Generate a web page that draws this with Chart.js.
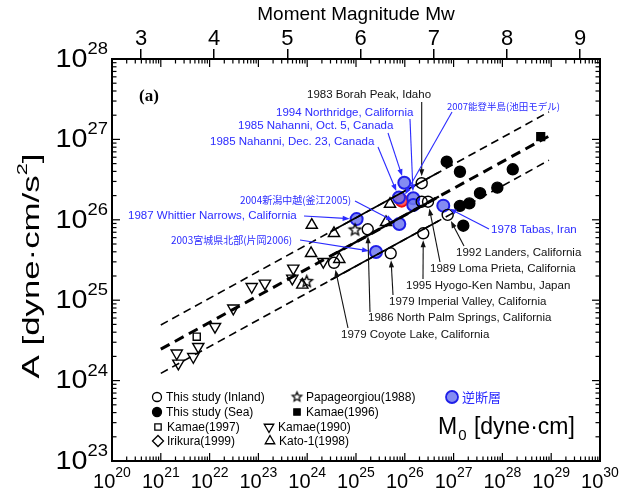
<!DOCTYPE html>
<html>
<head>
<meta charset="utf-8">
<script src="https://cdn.jsdelivr.net/npm/chart.js@4/dist/chart.umd.min.js"></script>
<style>
  html, body { margin: 0; padding: 0; background: #fff; }
  #wrap { width: 634px; height: 497px; }
</style>
</head>
<body>
<div id="wrap"><canvas id="c" width="634" height="497"></canvas></div>
<script>
// ---- data: seismic moment M0 [dyne·cm] and acceleration source level A [dyne·cm/s^2] ----
// This study, inland events
const inlandM0 = [1.74e25, 3.54e24, 5.14e25, 2.39e26, 2.22e26, 2.99e26, 7.57e26, 2.22e26];
const inlandA  = [7.62e25, 2.92e25, 3.83e25, 6.79e25, 1.68e26, 1.68e26, 1.15e26, 2.85e26];
// This study, offshore events
const seaM0 = [7.23e26, 1.35e27, 1.63e28, 7.87e27, 3.48e27, 2.10e27, 1.35e27, 1.58e27];
const seaA  = [5.28e26, 3.96e26, 4.25e26, 2.51e26, 2.14e26, 1.60e26, 1.49e26, 8.45e25];
// Kamae (1996)
const kamae96M0 = [6.10e28];
const kamae96A  = [1.08e27];
// Kamae (1997)
const kamae97M0 = [5.45e21];
const kamae97A  = [3.52e24];
// Kamae (1990)
const kamae90M0 = [2.14e24, 5.19e23, 4.95e23, 1.36e23, 7.29e22, 3.06e22, 1.29e22, 5.86e21, 2.12e21, 4.63e21, 2.29e21];
const kamae90A  = [3.01e25, 2.49e25, 1.87e25, 1.62e25, 1.47e25, 7.93e24, 4.68e24, 2.64e24, 2.19e24, 1.98e24, 1.64e24];
// Kato-1 (1998)
const kato1M0 = [1.24e24, 3.54e24, 1.20e24, 7.94e23, 4.55e24, 4.98e25, 4.12e25];
const kato1A  = [8.61e25, 6.79e25, 3.83e25, 1.55e25, 3.23e25, 1.57e26, 9.31e25];
// Papageorgiou (1988)
const papaM0 = [9.55e24, 9.77e23];
const papaA  = [7.46e25, 1.70e25];
// reverse-fault events
const reverseM0 = [1.03e25, 2.57e25, 7.71e25, 9.77e25, 1.49e26, 7.60e25, 1.49e26, 6.15e26];
const reverseA  = [1.02e26, 3.98e25, 8.87e25, 2.89e26, 1.85e26, 1.89e26, 1.53e26, 1.50e26];
// 2007 Noto Peninsula (Ikeda model)
const notoM0 = [8.63e25];
const notoA  = [1.73e26];

// scaling relations: mean and factor-2 bounds
const lineM0   = [1e21, 9e28];
const meanA    = [2.46e24, 1.10e27];
const upperA   = [4.92e24, 2.20e27];
const lowerA   = [1.23e24, 5.50e26];
const solidM0  = [3e24, 5e26];
const meanSolidA  = [3.55e25, 1.95e26];
const upperSolidA = [7.10e25, 3.90e26];
const lowerSolidA = [1.78e25, 9.75e25];

// axis ticks
const m0Exponents = [20, 21, 22, 23, 24, 25, 26, 27, 28, 29, 30];
const aExponents  = [23, 24, 25, 26, 27, 28];
const mwTicks     = [3, 4, 5, 6, 7, 8, 9];

// Mw = 2/3 log10(M0) - 10.73
const MW_C = 10.73;
const mwOf = m0 => 2 / 3 * Math.log10(m0) - MW_C;

const SANS = '"Liberation Sans", Arial, sans-serif';
const CJK = '"Noto Sans CJK JP", sans-serif';
const BLUE = '#2b2bff';

const pts = (xs, ys) => xs.map((v, i) => ({ x: v, y: ys[i] }));

function starImage(r, lw) {
  const s = Math.ceil(2 * r + 2 * lw + 2);
  const c = document.createElement('canvas');
  c.width = c.height = s;
  const g = c.getContext('2d');
  g.beginPath();
  for (let i = 0; i < 10; i++) {
    const rr = i % 2 ? r * 0.45 : r;
    const a = -Math.PI / 2 + i * Math.PI / 5;
    g.lineTo(s / 2 + rr * Math.cos(a), s / 2 + rr * Math.sin(a));
  }
  g.closePath();
  g.lineWidth = lw;
  g.strokeStyle = '#000';
  g.stroke();
  return c;
}
const starBig = starImage(6, 1.4);
const starSmall = starImage(5, 1.2);

const lineDs = (xs, ys, w, dash) => ({
  data: pts(xs, ys), showLine: true, borderColor: '#000', borderWidth: w,
  borderDash: dash, pointRadius: 0, fill: false
});
const markDs = (xs, ys, style, extra) => Object.assign({
  data: pts(xs, ys), showLine: false, pointStyle: style, pointRadius: 5.5,
  borderColor: '#000', backgroundColor: 'rgba(0,0,0,0)', pointBorderWidth: 1.4
}, extra || {});

const datasets = [
  lineDs(lineM0, upperA, 1.6, [8, 5]),
  lineDs(lineM0, meanA, 3, [10, 6]),
  lineDs(lineM0, lowerA, 1.6, [8, 5]),
  lineDs(solidM0, upperSolidA, 1.6, []),
  lineDs(solidM0, meanSolidA, 2.2, []),
  lineDs(solidM0, lowerSolidA, 1.6, []),
  markDs(kamae90M0, kamae90A, 'triangle', { pointRadius: 6.5, rotation: 180 }),
  markDs(kato1M0, kato1A, 'triangle', { pointRadius: 6.5 }),
  markDs(kamae97M0, kamae97A, 'rect', { pointRadius: 5 }),
  markDs(papaM0, papaA, starBig),
  markDs(inlandM0, inlandA, 'circle'),
  markDs(seaM0, seaA, 'circle', { backgroundColor: '#000' }),
  markDs(kamae96M0, kamae96A, 'rect', { backgroundColor: '#000', pointRadius: 5.5 }),
  markDs(reverseM0, reverseA, 'circle', { pointRadius: 6, backgroundColor: 'rgba(110,120,240,0.85)', borderColor: '#1f1fe8', pointBorderWidth: 2 }),
  markDs(notoM0, notoA, 'circle', { pointRadius: 6, backgroundColor: 'rgba(255,70,70,0.9)', borderColor: '#ee1111', pointBorderWidth: 2 })
];
const DS = { inland: 10, reverse: 13, noto: 14 };

// event labels: text placement and the point each arrow points to
const notes = [
  { t: '1983 Borah Peak, Idaho', c: '#111', f: SANS, x: 307, y: 95, from: [421.7, 102], ds: 'inland', i: 7 },
  { t: '1994 Northridge, California', c: BLUE, f: SANS, x: 276, y: 113, from: [410, 119], ds: 'reverse', i: 4 },
  { t: '1985 Nahanni, Oct. 5, Canada', c: BLUE, f: SANS, x: 238, y: 126, from: [388, 133], ds: 'reverse', i: 3 },
  { t: '1985 Nahanni, Dec. 23, Canada', c: BLUE, f: SANS, x: 210, y: 142, from: [378, 147], ds: 'reverse', i: 5 },
  { t: '2007能登半島(池田モデル)', c: BLUE, f: CJK, s: 9.5, x: 447, y: 106, from: [452, 112], ds: 'noto', i: 0 },
  { t: '2004新潟中越(釜江2005)', c: BLUE, f: CJK, s: 10, x: 240, y: 200, from: [355, 201], ds: 'reverse', i: 2 },
  { t: '1987 Whittier Narrows, California', c: BLUE, f: SANS, x: 128, y: 216, from: [304, 216], ds: 'reverse', i: 0 },
  { t: '2003宮城県北部(片岡2006)', c: BLUE, f: CJK, s: 10, x: 171, y: 240, from: [300, 240], ds: 'reverse', i: 1 },
  { t: '1978 Tabas, Iran', c: BLUE, f: SANS, x: 491, y: 230, from: [489, 229], ds: 'reverse', i: 7 },
  { t: '1992 Landers, California', c: '#111', f: SANS, x: 456, y: 253, from: [464, 246], ds: 'inland', i: 6 },
  { t: '1989 Loma Prieta, California', c: '#111', f: SANS, x: 430, y: 269, from: [440, 262], ds: 'inland', i: 5 },
  { t: '1995 Hyogo-Ken Nambu, Japan', c: '#111', f: SANS, x: 406, y: 286, from: [423, 279], ds: 'inland', i: 3 },
  { t: '1979 Imperial Valley, California', c: '#111', f: SANS, x: 389, y: 302, from: [393, 295], ds: 'inland', i: 2 },
  { t: '1986 North Palm Springs, California', c: '#111', f: SANS, x: 368, y: 318, from: [370, 312], ds: 'inland', i: 0 },
  { t: '1979 Coyote Lake, California', c: '#111', f: SANS, x: 341, y: 335, from: [348, 328], ds: 'inland', i: 1 }
];

// legend rows: marker, text, placement
const legendItems = [
  { ds: 10, t: 'This study (Inland)', x: 157, y: 397 },
  { ds: 9,  t: 'Papageorgiou(1988)', x: 297, y: 397, star: true },
  { ds: 13, t: '逆断層', x: 452, y: 397, cjk: true },
  { ds: 11, t: 'This study (Sea)', x: 157, y: 412 },
  { ds: 12, t: 'Kamae(1996)', x: 297, y: 412 },
  { ds: 8,  t: 'Kamae(1997)', x: 158, y: 427 },
  { ds: 6,  t: 'Kamae(1990)', x: 269, y: 427 },
  { ds: 'diamond', t: 'Irikura(1999)', x: 158, y: 441 },
  { ds: 7,  t: 'Kato-1(1998)', x: 270, y: 441 }
];

function powText(ctx, x, y, base, exp, size, expSize, align, sx) {
  ctx.font = `${size}px ${SANS}`;
  const w1 = ctx.measureText(base).width;
  ctx.font = `${expSize}px ${SANS}`;
  const w2 = ctx.measureText(exp).width;
  const total = (w1 + w2) * sx;
  let x0 = align === 'right' ? x - total : x - total / 2;
  ctx.save();
  ctx.translate(x0, y);
  ctx.scale(sx, 1);
  ctx.textAlign = 'left';
  ctx.textBaseline = 'middle';
  ctx.font = `${size}px ${SANS}`;
  ctx.fillText(base, 0, 0);
  ctx.font = `${expSize}px ${SANS}`;
  ctx.fillText(exp, w1, -size * 0.42);
  ctx.restore();
}

function arrow(ctx, x1, y1, x2, y2, color) {
  const a = Math.atan2(y2 - y1, x2 - x1);
  ctx.strokeStyle = color;
  ctx.fillStyle = color;
  ctx.lineWidth = 1.1;
  ctx.beginPath();
  ctx.moveTo(x1, y1);
  ctx.lineTo(x2 - 5 * Math.cos(a), y2 - 5 * Math.sin(a));
  ctx.stroke();
  const L = 7, W = 2.6;
  ctx.beginPath();
  ctx.moveTo(x2, y2);
  ctx.lineTo(x2 - L * Math.cos(a) + W * Math.sin(a), y2 - L * Math.sin(a) - W * Math.cos(a));
  ctx.lineTo(x2 - L * Math.cos(a) - W * Math.sin(a), y2 - L * Math.sin(a) + W * Math.cos(a));
  ctx.closePath();
  ctx.fill();
}

const decor = {
  id: 'decor',
  afterDraw(chart) {
    const { ctx, chartArea: a, scales } = chart;
    const xs = scales.x, ys = scales.y;
    ctx.save();

    // frame
    ctx.strokeStyle = '#000';
    ctx.lineWidth = 2;
    ctx.strokeRect(a.left, a.top, a.right - a.left, a.bottom - a.top);

    // inward log ticks on all four sides
    ctx.lineWidth = 1.2;
    const seg = (x1, y1, x2, y2) => { ctx.beginPath(); ctx.moveTo(x1, y1); ctx.lineTo(x2, y2); ctx.stroke(); };
    for (let k = 20; k < 30; k++) {
      for (let m = 1; m < 10; m++) {
        if (k === 20 && m === 1) continue;
        const px = xs.getPixelForValue(m * Math.pow(10, k));
        const L = m === 1 ? 8 : 4.5;
        seg(px, a.bottom, px, a.bottom - L);
        seg(px, a.top, px, a.top + L);
      }
    }
    for (let k = 23; k < 28; k++) {
      for (let m = 1; m < 10; m++) {
        if (k === 23 && m === 1) continue;
        const py = ys.getPixelForValue(m * Math.pow(10, k));
        const L = m === 1 ? 8 : 4.5;
        seg(a.left, py, a.left + L, py);
        seg(a.right, py, a.right - L, py);
      }
    }

    // tick labels with exponents
    ctx.fillStyle = '#000';
    for (const e of aExponents) {
      powText(ctx, 108, ys.getPixelForValue(Math.pow(10, e)) + 1, '10', String(e), 25, 16, 'right', 1.15);
    }
    for (const e of m0Exponents) {
      powText(ctx, xs.getPixelForValue(Math.pow(10, e)), 482, '10', String(e), 20, 14, 'center', 1.0);
    }

    // y-axis title, stretched along its reading direction
    ctx.save();
    ctx.translate(32, 266);
    ctx.rotate(-Math.PI / 2);
    ctx.scale(1.45, 1);
    ctx.font = `24px ${SANS}`;
    const t1 = 'A [dyne·cm/s', t2 = '2', t3 = ']';
    const w1 = ctx.measureText(t1).width;
    ctx.font = `15px ${SANS}`;
    const w2 = ctx.measureText(t2).width;
    ctx.font = `24px ${SANS}`;
    const w3 = ctx.measureText(t3).width;
    const tot = w1 + w2 + w3;
    ctx.textBaseline = 'middle';
    ctx.textAlign = 'left';
    ctx.fillText(t1, -tot / 2, 0);
    ctx.font = `15px ${SANS}`;
    ctx.fillText(t2, -tot / 2 + w1, -9);
    ctx.font = `24px ${SANS}`;
    ctx.fillText(t3, -tot / 2 + w1 + w2, 0);
    ctx.restore();

    // x-axis title inside the plot
    ctx.textBaseline = 'middle';
    ctx.textAlign = 'left';
    ctx.font = `23px ${SANS}`;
    ctx.fillText('M', 438, 428);
    const wm = ctx.measureText('M').width;
    ctx.font = `15px ${SANS}`;
    ctx.fillText('0', 438 + wm + 1, 436);
    const w0 = ctx.measureText('0').width;
    ctx.font = `23px ${SANS}`;
    ctx.fillText(' [dyne·cm]', 438 + wm + w0 + 2, 428);

    // panel tag
    ctx.font = `bold 17px "Liberation Serif", serif`;
    ctx.fillText('(a)', 139, 97);

    // event labels and arrows
    for (const n of notes) {
      ctx.font = `${n.s || 11.5}px ${n.f}`;
      ctx.fillStyle = n.c;
      ctx.textBaseline = 'middle';
      ctx.fillText(n.t, n.x, n.y);
      const p = chart.data.datasets[DS[n.ds]].data[n.i];
      const cx = xs.getPixelForValue(p.x), cy = ys.getPixelForValue(p.y);
      const [fx, fy] = n.from;
      const d = Math.hypot(cx - fx, cy - fy);
      const r = 7;
      arrow(ctx, fx, fy, cx - (cx - fx) / d * r, cy - (cy - fy) / d * r, n.c);
    }

    // legend
    for (const it of legendItems) {
      let style, fill = 'rgba(0,0,0,0)', stroke = '#000', bw = 1.3, rot = 0, rad = 4.5;
      if (it.ds === 'diamond') { style = 'rectRot'; rad = 5.5; }
      else {
        const d = chart.data.datasets[it.ds];
        style = it.star ? starSmall : d.pointStyle;
        fill = d.backgroundColor; stroke = d.borderColor; rot = d.rotation || 0;
        if (style === 'triangle') rad = 5.5;
        if (it.cjk) rad = 6;
      }
      ctx.fillStyle = fill;
      ctx.strokeStyle = stroke;
      ctx.lineWidth = it.cjk ? 1.8 : bw;
      Chart.helpers.drawPoint(ctx, { pointStyle: style, radius: rad, rotation: rot, borderWidth: bw }, it.x, it.y);
      ctx.fillStyle = it.cjk ? BLUE : '#000';
      ctx.font = it.cjk ? `13px ${CJK}` : `12px ${SANS}`;
      ctx.textBaseline = 'middle';
      ctx.fillText(it.t, it.x + (it.cjk ? 10 : 9), it.y + 0.5);
    }
    ctx.restore();
  }
};

Chart.defaults.font.family = SANS;
Chart.defaults.color = '#000';

new Chart(document.getElementById('c'), {
  type: 'scatter',
  data: { datasets },
  options: {
    responsive: false,
    animation: false,
    devicePixelRatio: 1,
    events: [],
    layout: { padding: { left: 0, right: 34, top: 0, bottom: 0 } },
    plugins: { legend: { display: false }, tooltip: { enabled: false } },
    scales: {
      x: {
        type: 'logarithmic', position: 'bottom', min: 1e20, max: 1e30,
        ticks: { display: false }, grid: { display: false }, border: { display: false },
        afterFit(s) { s.height = 36; }
      },
      y: {
        type: 'logarithmic', position: 'left', min: 1e23, max: 1e28,
        ticks: { display: false }, grid: { display: false }, border: { display: false },
        afterFit(s) { s.width = 112; }
      },
      mw: {
        type: 'linear', position: 'top', min: mwOf(1e20), max: mwOf(1e30),
        afterBuildTicks(s) { s.ticks = mwTicks.map(v => ({ value: v })); },
        ticks: { font: { size: 22 }, color: '#000', padding: -3, maxRotation: 0, autoSkip: false },
        grid: { drawOnChartArea: false, drawTicks: true, tickLength: 10, color: '#000', lineWidth: 1.5 },
        border: { display: false },
        title: { display: true, text: 'Moment Magnitude Mw', font: { size: 19 }, color: '#000', padding: { top: 3, bottom: 0 } },
        afterFit(s) { s.height = 59; }
      }
    }
  },
  plugins: [decor]
});
</script>
</body>
</html>
